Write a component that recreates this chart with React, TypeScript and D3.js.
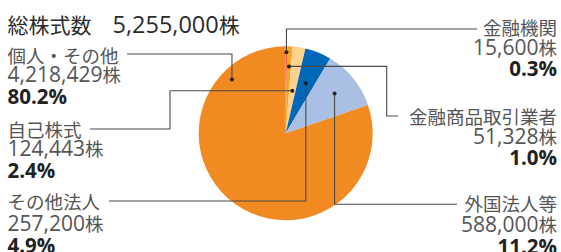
import React from 'react';
import * as d3 from 'd3';

const titleLabel = '総株式数';
const totalShares = 5255000;
const categories = ['金融機関', '金融商品取引業者', '自己株式', 'その他法人', '外国法人等', '個人・その他'];
const shares = [15600, 51328, 124443, 257200, 588000, 4218429];
const percentLabels = ['0.3%', '1.0%', '2.4%', '4.9%', '11.2%', '80.2%'];
const colors = ['#ee5b5b', '#f6a625', '#fdd18e', '#0068b7', '#aabfe4', '#f28a22'];

const W = 561;
const H = 252;
const CX = 285.7;
const CY = 133.3;
const R = 87;

type Leader = {
  kind: 'vh' | 'hvh';
  dotR: number;
  dotAngle?: number;
  y1: number;
  xMid?: number;
  xEnd: number;
  anchor: 'start' | 'end';
  tx: number;
  ty: number[];
};

const layout: Leader[] = [
  { kind: 'vh', dotR: 81, y1: 29, xEnd: 477, anchor: 'end', tx: 557, ty: [35, 55, 76] },
  { kind: 'hvh', dotR: 67, xMid: 386.7, y1: 116, xEnd: 398, anchor: 'end', tx: 557, ty: [124, 143.5, 165] },
  { kind: 'hvh', dotR: 43, xMid: 170, y1: 129, xEnd: 90, anchor: 'start', tx: 7.5, ty: [137, 156, 178] },
  { kind: 'vh', dotR: 54, y1: 201, xEnd: 109, anchor: 'start', tx: 7.5, ty: [209, 231, 252.5] },
  { kind: 'vh', dotR: 63, y1: 204.3, xEnd: 457, anchor: 'end', tx: 557, ty: [211, 232, 253.5] },
  { kind: 'vh', dotR: 76, dotAngle: (7 * Math.PI) / 4, y1: 54, xEnd: 127, anchor: 'start', tx: 7.5, ty: [63, 82, 104] },
];

const LATIN = '"Open Sans", "Noto Sans CJK JP", sans-serif';
const CJK = '"Noto Sans CJK JP", sans-serif';

export default function App() {
  const pie = d3.pie<number>().sort(null).value((d) => d);
  const arcs = pie(shares);
  const arc = d3.arc<d3.PieArcDatum<number>>().innerRadius(0).outerRadius(R);
  const fmt = d3.format(',');

  return (
    <svg width={W} height={H} style={{ position: 'absolute', left: 0, top: 0, background: '#fff' }}>
      <text x={7.5} y={33} fill="#2b2b2b" style={{ fontFamily: CJK, fontSize: 21 }}>
        <tspan>{titleLabel + '　'}</tspan>
        <tspan style={{ fontFamily: LATIN, fontSize: 23.5 }}>{fmt(totalShares)}</tspan>
        <tspan>株</tspan>
      </text>
      <g transform={`translate(${CX},${CY})`}>
        {arcs.map((a, i) => (
          <path key={i} d={arc(a) || ''} fill={colors[i]} />
        ))}
      </g>
      {arcs.map((a, i) => {
        const L = layout[i];
        const ang = L.dotAngle ?? (a.startAngle + a.endAngle) / 2;
        const dx = CX + L.dotR * Math.sin(ang);
        const dy = CY - L.dotR * Math.cos(ang);
        let pts: [number, number][];
        if (L.kind === 'vh') {
          pts = [[dx, dy], [dx, L.y1], [L.xEnd, L.y1]];
        } else {
          pts = [[dx, dy], [L.xMid!, dy], [L.xMid!, L.y1], [L.xEnd, L.y1]];
        }
        const line = d3.line()(pts) || '';
        return (
          <g key={i}>
            <path d={line} fill="none" stroke="#4a4a4a" strokeWidth={1.1} />
            <circle cx={dx} cy={dy} r={2} fill="#222" />
            <text x={L.tx} y={L.ty[0]} textAnchor={L.anchor} fill="#555" style={{ fontFamily: CJK, fontSize: 18.5 }}>
              {categories[i]}
            </text>
            <text x={L.tx} y={L.ty[1]} textAnchor={L.anchor} fill="#555" style={{ fontFamily: CJK, fontSize: 18.5 }}>
              <tspan style={{ fontFamily: LATIN, fontSize: 21 }}>{fmt(shares[i])}</tspan>
              <tspan>株</tspan>
            </text>
            <text x={L.tx} y={L.ty[2]} textAnchor={L.anchor} fill="#222" style={{ fontFamily: LATIN, fontSize: 20.5, fontWeight: 700 }}>
              {percentLabels[i]}
            </text>
          </g>
        );
      })}
    </svg>
  );
}
